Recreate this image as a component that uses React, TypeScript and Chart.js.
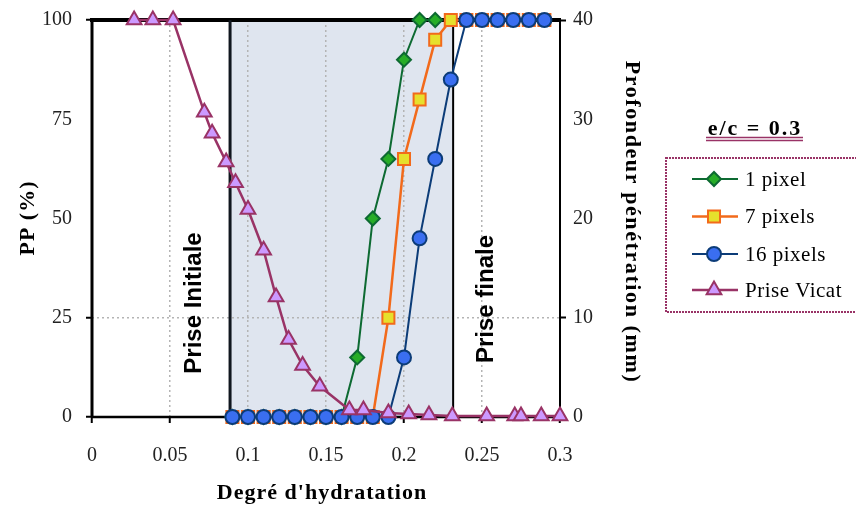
import React, { useEffect, useRef } from 'react';
import { Chart, registerables } from 'chart.js';
import { drawPoint } from 'chart.js/helpers';

Chart.register(...registerables);

// ---- data ----
const hydration = [0.09, 0.10, 0.11, 0.12, 0.13, 0.14, 0.15, 0.16, 0.17, 0.18, 0.19, 0.20, 0.21, 0.22, 0.23, 0.24, 0.25, 0.26, 0.27, 0.28, 0.29];
const pp1pixel = [0, 0, 0, 0, 0, 0, 0, 0, 15, 50, 65, 90, 100, 100];
const pp7pixels = [0, 0, 0, 0, 0, 0, 0, 0, 0, 0, 25, 65, 80, 95, 100, 100, 100, 100, 100, 100, 100];
const pp16pixels = [0, 0, 0, 0, 0, 0, 0, 0, 0, 0, 0, 15, 45, 65, 85, 100, 100, 100, 100, 100, 100];
const vicatHydration = [0.027, 0.039, 0.052, 0.072, 0.077, 0.086, 0.092, 0.1, 0.11, 0.118, 0.126, 0.135, 0.146, 0.165, 0.174, 0.19, 0.203, 0.216, 0.231, 0.253, 0.271, 0.275, 0.288, 0.3];
const vicatDepth = [40, 40, 40, 30.7, 28.6, 25.7, 23.6, 20.9, 16.8, 12.1, 7.8, 5.2, 3.1, 0.7, 0.7, 0.4, 0.3, 0.2, 0.1, 0.1, 0.1, 0.1, 0.1, 0.1];
const xTickLabels = ['0', '0.05', '0.1', '0.15', '0.2', '0.25', '0.3'];
const ppTickLabels = ['0', '25', '50', '75', '100'];
const depthTickLabels = ['0', '10', '20', '30', '40'];
const setInitial = 0.0885;
const setFinal = 0.2315;
const seriesNames = ['1 pixel', '7 pixels', '16 pixels', 'Prise Vicat'];

const STY = [
  { line: '#0d6a32', fill: '#27ad27', edge: '#0d6a32', style: 'rectRot', r: 7, lw: 2 },
  { line: '#f26a1b', fill: '#e6e02c', edge: '#f26a1b', style: 'rect', r: 8.5, lw: 2.5 },
  { line: '#0c3c78', fill: '#3a6ef0', edge: '#0c3c78', style: 'circle', r: 7, lw: 2 },
  { line: '#993366', fill: '#cc99ff', edge: '#993366', style: 'triangle', r: 8.5, lw: 2.5 },
];

const SERIF = '"Liberation Serif", "Times New Roman", serif';

function rotText(ctx: CanvasRenderingContext2D, text: string, x: number, y: number, angle: number) {
  ctx.save();
  ctx.translate(x, y);
  ctx.rotate(angle);
  ctx.textAlign = 'center';
  ctx.textBaseline = 'middle';
  ctx.fillText(text, 0, 0);
  ctx.restore();
}

const decor = {
  id: 'decor',
  beforeDraw(chart: any) {
    const { ctx, chartArea, scales } = chart;
    const x1 = scales.x.getPixelForValue(setInitial);
    const x2 = scales.x.getPixelForValue(setFinal);
    ctx.save();
    ctx.fillStyle = '#dfe5ef';
    ctx.fillRect(x1, chartArea.top, x2 - x1, chartArea.bottom - chartArea.top);
    ctx.restore();
  },
  beforeDatasetsDraw(chart: any) {
    const { ctx, chartArea, scales } = chart;
    const { left, right, top, bottom } = chartArea;
    const x1 = scales.x.getPixelForValue(setInitial);
    const x2 = scales.x.getPixelForValue(setFinal);
    ctx.save();
    ctx.strokeStyle = '#000';
    ctx.lineWidth = 4;
    ctx.beginPath(); ctx.moveTo(left - 2, top); ctx.lineTo(right + 1, top); ctx.stroke();
    ctx.lineWidth = 3;
    ctx.beginPath(); ctx.moveTo(left, top); ctx.lineTo(left, bottom); ctx.stroke();
    ctx.lineWidth = 2.5;
    ctx.beginPath(); ctx.moveTo(left, bottom); ctx.lineTo(right, bottom); ctx.stroke();
    ctx.lineWidth = 2;
    ctx.beginPath(); ctx.moveTo(right, top); ctx.lineTo(right, bottom); ctx.stroke();
    ctx.strokeStyle = '#10161e';
    ctx.lineWidth = 3;
    ctx.beginPath(); ctx.moveTo(x1, top); ctx.lineTo(x1, bottom); ctx.stroke();
    ctx.strokeStyle = '#000';
    ctx.lineWidth = 2;
    ctx.beginPath(); ctx.moveTo(x2, top); ctx.lineTo(x2, bottom); ctx.stroke();

    ctx.fillStyle = '#000';
    ctx.font = 'bold 24px "Liberation Sans Narrow", "Liberation Sans", sans-serif';
    rotText(ctx, 'Prise Initiale', x1 - 36, 303, -Math.PI / 2);
    rotText(ctx, 'Prise finale', x2 + 33, 299, -Math.PI / 2);
    ctx.restore();
  },
  afterDraw(chart: any) {
    const { ctx } = chart;
    ctx.save();
    ctx.fillStyle = '#000';
    ctx.font = 'bold 22px ' + SERIF;
    (ctx as any).letterSpacing = '1px';
    rotText(ctx, 'PP (%)', 28, 218, -Math.PI / 2);
    rotText(ctx, "Degré d'hydratation", 322, 493, 0);
    (ctx as any).letterSpacing = '1.6px';
    rotText(ctx, 'Profondeur pénétration (mm)', 632, 222, Math.PI / 2);

    // legend title
    (ctx as any).letterSpacing = '2px';
    ctx.font = 'bold 22px ' + SERIF;
    rotText(ctx, 'e/c = 0.3', 755, 129, 0);
    ctx.lineWidth = 1.5;
    ctx.beginPath();
    ctx.moveTo(706, 137.5); ctx.lineTo(803, 137.5);
    ctx.moveTo(706, 140.5); ctx.lineTo(803, 140.5);
    ctx.stroke();

    // legend box
    ctx.setLineDash([2, 1]);
    ctx.lineWidth = 2;
    ctx.strokeRect(666, 158, 220, 154);
    ctx.setLineDash([]);

    (ctx as any).letterSpacing = '0.5px';
    ctx.font = '21px ' + SERIF;
    const rows = [179, 216.5, 254, 290];
    seriesNames.forEach((name, i) => {
      const s = STY[i];
      const y = rows[i];
      ctx.strokeStyle = s.line;
      ctx.lineWidth = s.lw;
      ctx.beginPath(); ctx.moveTo(692, y); ctx.lineTo(738, y); ctx.stroke();
      ctx.fillStyle = s.fill;
      ctx.strokeStyle = s.edge;
      ctx.lineWidth = 2;
      drawPoint(ctx, { pointStyle: s.style, radius: s.r, borderWidth: 2, rotation: 0 } as any, 714, y);
      ctx.fillStyle = '#000';
      ctx.textAlign = 'left';
      ctx.textBaseline = 'middle';
      ctx.fillText(name, 745, y + 1);
    });
    ctx.restore();
  },
};

function ds(label: string, xs: number[], ys: number[], i: number, axis: string, order: number) {
  const s = STY[i];
  return {
    label,
    data: ys.map((v, k) => ({ x: xs[k], y: v })),
    yAxisID: axis,
    borderColor: s.line,
    borderWidth: s.lw,
    pointStyle: s.style,
    pointRadius: s.r,
    pointBackgroundColor: s.fill,
    pointBorderColor: s.edge,
    pointBorderWidth: 2,
    fill: false,
    tension: 0,
    order,
    clip: false,
  };
}

export default function App() {
  const ref = useRef<HTMLCanvasElement>(null);
  useEffect(() => {
    const canvas = ref.current!;
    const tickFont = { family: SERIF, size: 20 };
    const chart = new Chart(canvas, {
      type: 'line',
      data: {
        datasets: [
          ds(seriesNames[3], vicatHydration, vicatDepth, 3, 'y1', 0),
          ds(seriesNames[2], hydration, pp16pixels, 2, 'y', 1),
          ds(seriesNames[1], hydration, pp7pixels, 1, 'y', 2),
          ds(seriesNames[0], hydration.slice(0, pp1pixel.length), pp1pixel, 0, 'y', 3),
        ] as any,
      },
      options: {
        responsive: false,
        animation: false,
        devicePixelRatio: 1,
        layout: { padding: { top: 20, left: 0, right: 0, bottom: 0 } },
        plugins: { legend: { display: false }, tooltip: { enabled: false } },
        scales: {
          x: {
            type: 'linear',
            min: 0,
            max: 0.3,
            afterFit: (s: any) => { s.height = 89; s.paddingLeft = 0; s.paddingRight = 0; },
            afterBuildTicks: (s: any) => { s.ticks = xTickLabels.map((t) => ({ value: parseFloat(t) })); },
            ticks: {
              font: tickFont,
              color: '#222',
              padding: 21,
              maxRotation: 0,
              autoSkip: false,
              callback: (_v: any, i: number) => xTickLabels[i],
            },
            grid: {
              color: (c: any) => (c.index > 0 && c.index < xTickLabels.length - 1 ? '#b4b4b4' : 'rgba(0,0,0,0)'),
              lineWidth: 1.5,
              tickLength: 6,
              tickColor: '#000',
              tickWidth: 2,
            },
            border: { display: false, dash: [2, 3] },
          },
          y: {
            type: 'linear',
            position: 'left',
            min: 0,
            max: 100,
            afterFit: (s: any) => { s.width = 92; s.paddingTop = 0; s.paddingBottom = 0; },
            afterBuildTicks: (s: any) => { s.ticks = ppTickLabels.map((t) => ({ value: parseFloat(t) })); },
            ticks: {
              font: tickFont,
              color: '#222',
              padding: 14,
              callback: (_v: any, i: number) => ppTickLabels[i],
            },
            grid: {
              color: (c: any) => (c.tick && c.tick.value === 25 ? '#b4b4b4' : 'rgba(0,0,0,0)'),
              lineWidth: 1.5,
              tickLength: 6,
              tickColor: (c: any) => (c.tick && [0, 25, 100].includes(c.tick.value) ? '#000' : 'rgba(0,0,0,0)'),
              tickWidth: 2,
            },
            border: { display: false, dash: [2, 3] },
          },
          y1: {
            type: 'linear',
            position: 'right',
            min: 0,
            max: 40,
            afterFit: (s: any) => { s.width = 296; s.paddingTop = 0; s.paddingBottom = 0; },
            afterBuildTicks: (s: any) => { s.ticks = depthTickLabels.map((t) => ({ value: parseFloat(t) })); },
            ticks: {
              font: tickFont,
              color: '#222',
              padding: 7,
              callback: (_v: any, i: number) => depthTickLabels[i],
            },
            grid: {
              drawOnChartArea: false,
              color: 'rgba(0,0,0,0)',
              tickLength: 6,
              tickColor: (c: any) => (c.tick && [0, 10, 40].includes(c.tick.value) ? '#000' : 'rgba(0,0,0,0)'),
              tickWidth: 2,
            },
            border: { display: false },
          },
        },
      },
      plugins: [decor],
    } as any);
    return () => chart.destroy();
  }, []);
  return (
    <div style={{ position: 'fixed', left: 0, top: 0, width: 856, height: 506, background: '#fff' }}>
      <canvas ref={ref} width={856} height={506} style={{ display: 'block', width: 856, height: 506 }} />
    </div>
  );
}
